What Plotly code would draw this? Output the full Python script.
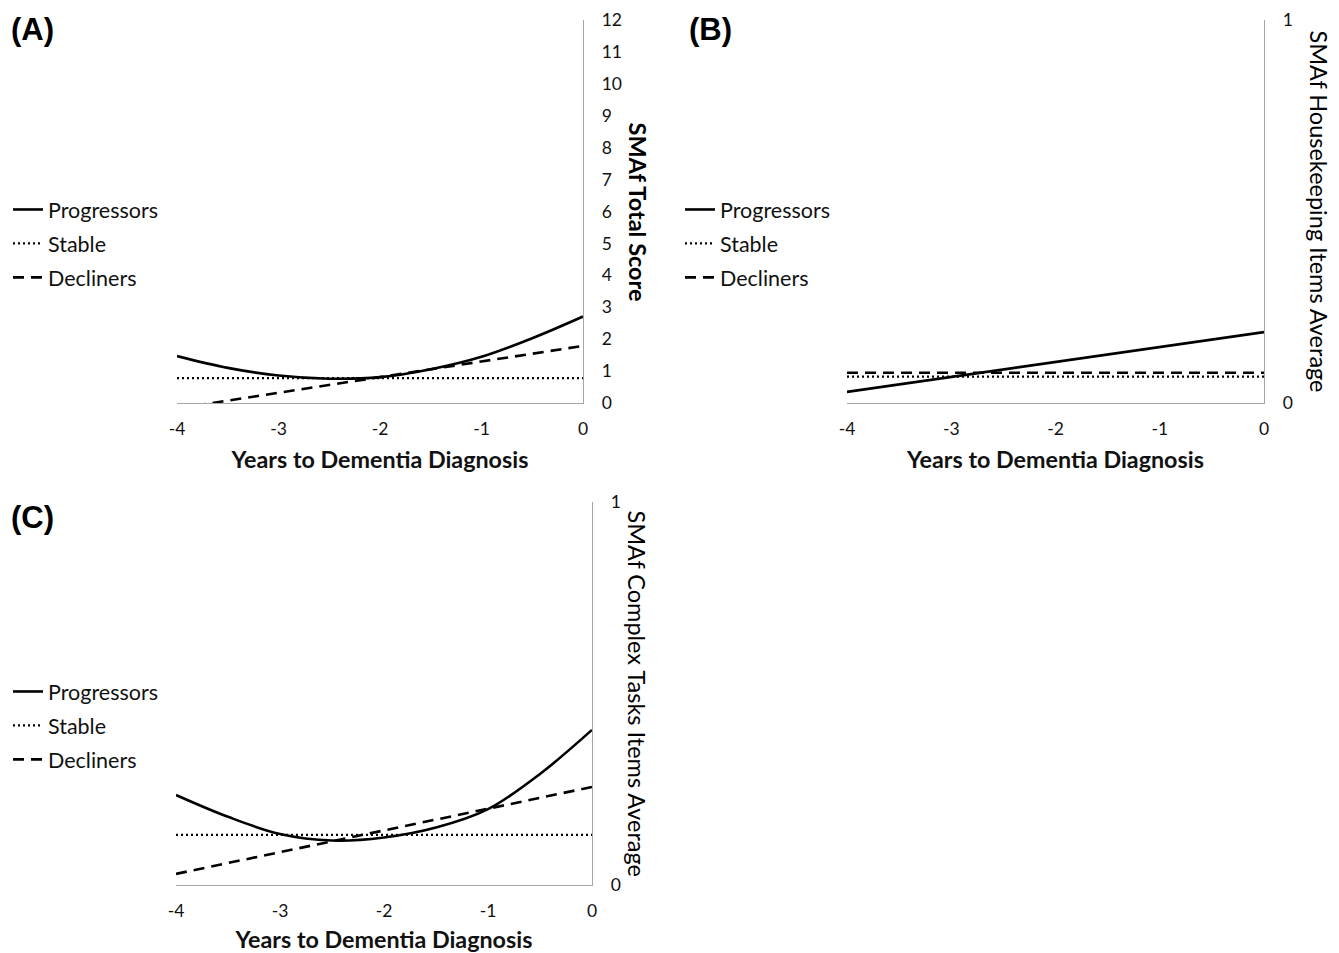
import plotly.graph_objects as go

# page has an 8px body margin; figure occupies the rest of the 1339x953 window
OFF = 8
W, H = 1339 - OFF, 953 - OFF

years = [-4, -3.5, -3, -2.5, -2, -1.5, -1, -0.5, 0]
years_lin = [-4, 0]

# Panel A: SMAf Total Score
a_prog = [1.47, 1.10, 0.86, 0.76, 0.81, 1.06, 1.45, 2.03, 2.71]
a_stable = [0.78, 0.78]
a_decl = [-0.17, 1.79]

# Panel B: SMAf Housekeeping Items Average
b_prog = [0.029, 0.185]
b_stable = [0.069, 0.069]
b_decl = [0.079, 0.079]

# Panel C: SMAf Complex Tasks Items Average
c_prog = [0.235, 0.178, 0.133, 0.116, 0.124, 0.150, 0.198, 0.290, 0.405]
c_stable = [0.131, 0.131]
c_decl = [0.029, 0.256]

series_names = ["Progressors", "Stable", "Decliners"]

x_ticks = [-4, -3, -2, -1, 0]
a_yticks = list(range(0, 13))
bc_yticks = [0, 1]

FONT = "Lato, 'Open Sans', sans-serif"
AXIS_GRAY = "#a6a6a6"
TXT = "#111111"


def px_x(p):
    return (p - OFF) / W


def px_y(p):
    return 1 - (p - OFF) / H


panels = [
    dict(key="", x=(177, 583), y=(20, 403), prog=a_prog, progx=years, stable=a_stable, decl=a_decl,
         yr=[0, 12], yt=a_yticks, ytitle="<b>SMAf Total Score</b>", tx=637, label="(A)", lx=9, ly=30,
         legend="legend", leg=(8, 189)),
    dict(key="2", x=(847, 1264), y=(20, 403), prog=b_prog, progx=years_lin, stable=b_stable, decl=b_decl,
         yr=[0, 1], yt=bc_yticks, ytitle="SMAf Housekeeping Items Average", tx=1318, label="(B)", lx=687, ly=30,
         legend="legend2", leg=(680, 189)),
    dict(key="3", x=(176, 592), y=(502, 885), prog=c_prog, progx=years, stable=c_stable, decl=c_decl,
         yr=[0, 1], yt=bc_yticks, ytitle="SMAf Complex Tasks Items Average", tx=637, label="(C)", lx=9, ly=517,
         legend="legend3", leg=(8, 671)),
]

fig = go.Figure()
annotations = []
layout = {}
for p in panels:
    k = p["key"]
    xa = "x" + k
    ya = "y" + k
    fig.add_trace(go.Scatter(x=p["progx"], y=p["prog"], mode="lines", name=series_names[0],
                             line=dict(color="black", width=2.6, shape="spline", smoothing=1.0),
                             xaxis=xa, yaxis=ya, legend=p["legend"], legendgroup=k + "p"))
    fig.add_trace(go.Scatter(x=years_lin, y=p["stable"], mode="lines", name=series_names[1],
                             line=dict(color="black", width=2.3, dash="2px,3px"),
                             xaxis=xa, yaxis=ya, legend=p["legend"], legendgroup=k + "s"))
    fig.add_trace(go.Scatter(x=years_lin, y=p["decl"], mode="lines", name=series_names[2],
                             line=dict(color="black", width=2.6, dash="11px,7px"),
                             xaxis=xa, yaxis=ya, legend=p["legend"], legendgroup=k + "d"))
    layout["xaxis" + k] = dict(
        domain=[px_x(p["x"][0]), px_x(p["x"][1])], range=[-4, 0], anchor=ya,
        tickvals=x_ticks, ticktext=[str(v) for v in x_ticks], automargin=False,
        showgrid=False, zeroline=False, showline=True, linecolor=AXIS_GRAY, linewidth=1.3,
        ticks="", ticklabelstandoff=10, tickfont=dict(family=FONT, size=17.5, color=TXT),
        title=dict(text="<b>Years to Dementia Diagnosis</b>", standoff=13,
                   font=dict(family=FONT, size=23.3, color=TXT)),
        fixedrange=True,
    )
    layout["yaxis" + k] = dict(
        domain=[px_y(p["y"][1]), px_y(p["y"][0])], range=p["yr"], anchor=xa, side="right",
        tickvals=p["yt"], ticktext=[str(v) for v in p["yt"]], automargin=False,
        showgrid=False, zeroline=False, showline=True, linecolor=AXIS_GRAY, linewidth=1.3,
        ticks="", ticklabelstandoff=14, tickfont=dict(family=FONT, size=17.5, color=TXT),
        fixedrange=True,
    )
    annotations.append(dict(text=p["ytitle"], x=px_x(p["tx"]), y=(px_y(p["y"][0]) + px_y(p["y"][1])) / 2,
                            xref="paper", yref="paper", textangle=90, showarrow=False,
                            xanchor="center", yanchor="middle",
                            font=dict(family=FONT, size=23.5, color="#000000")))
    annotations.append(dict(text="<b>" + p["label"] + "</b>", x=px_x(p["lx"]), y=px_y(p["ly"]),
                            xref="paper", yref="paper", showarrow=False, xanchor="left", yanchor="middle",
                            font=dict(family="'Liberation Sans', Arial, sans-serif", size=31, color="black")))
    layout[p["legend"]] = dict(
        x=px_x(p["leg"][0]), y=px_y(p["leg"][1]), xanchor="left", yanchor="top",
        bgcolor="rgba(0,0,0,0)", font=dict(family=FONT, size=21.5, color=TXT),
        tracegroupgap=3, itemwidth=30, traceorder="grouped",
    )

fig.update_layout(
    width=W, height=H, margin=dict(l=0, r=0, t=0, b=0, autoexpand=False),
    paper_bgcolor="white", plot_bgcolor="white",
    showlegend=True, annotations=annotations, **layout,
)

fig.write_html("out.html")
